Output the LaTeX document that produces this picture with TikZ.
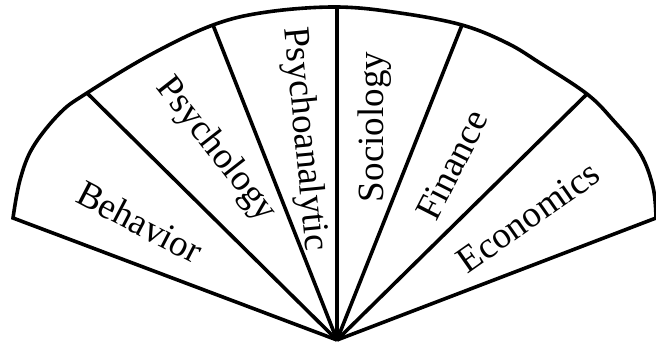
\documentclass[tikz,border=0pt]{standalone}
\usepackage{fontspec}
\setmainfont{Liberation Serif}
\begin{document}
\begin{tikzpicture}[x=1pt,y=-1pt,
  fanline/.style={line width=3.6pt,line join=miter,line cap=butt},
  lbl/.style={inner sep=0pt,font=\fontsize{37}{40}\selectfont}]
\useasboundingbox (0,0) rectangle (656,345);
\coordinate (O) at (337,340);
\coordinate (P0) at (13,218);
\coordinate (P1) at (87,93);
\coordinate (P2) at (213,25);
\coordinate (P3) at (337,7);
\coordinate (P4) at (462,25);
\coordinate (P5) at (587,94);
\coordinate (P6) at (656,218);
\draw[fanline] (O) -- (P0) -- plot[smooth,tension=0.6] coordinates {(13,218) (20,180) (33,147) (60,113) (87,93) (150,55) (213,25) (267,12) (337,7) (400,13) (462,25) (507,43) (540,63) (587,94) (613,120) (640,153) (653,187) (656,218)} -- (O);
\draw[fanline] (O) -- (P1);
\draw[fanline] (O) -- (P2);
\draw[fanline] (O) -- (P3);
\draw[fanline] (O) -- (P4);
\draw[fanline] (O) -- (P5);
\node[lbl,rotate=-27.5] (beh) at (140,222) {Behavior};
\node[lbl,rotate=-52] (psy) at (216,150) {Psychology};
\node[lbl,rotate=-84.5] (pan) at (304,139) {Psychoanalytic};
\node[lbl,rotate=90] (soc) at (375,127) {Sociology};
\node[lbl,rotate=63] (fin) at (452,165) {Finance};
\node[lbl,rotate=35] (eco) at (528,217) {Economics};
\end{tikzpicture}
\end{document}
